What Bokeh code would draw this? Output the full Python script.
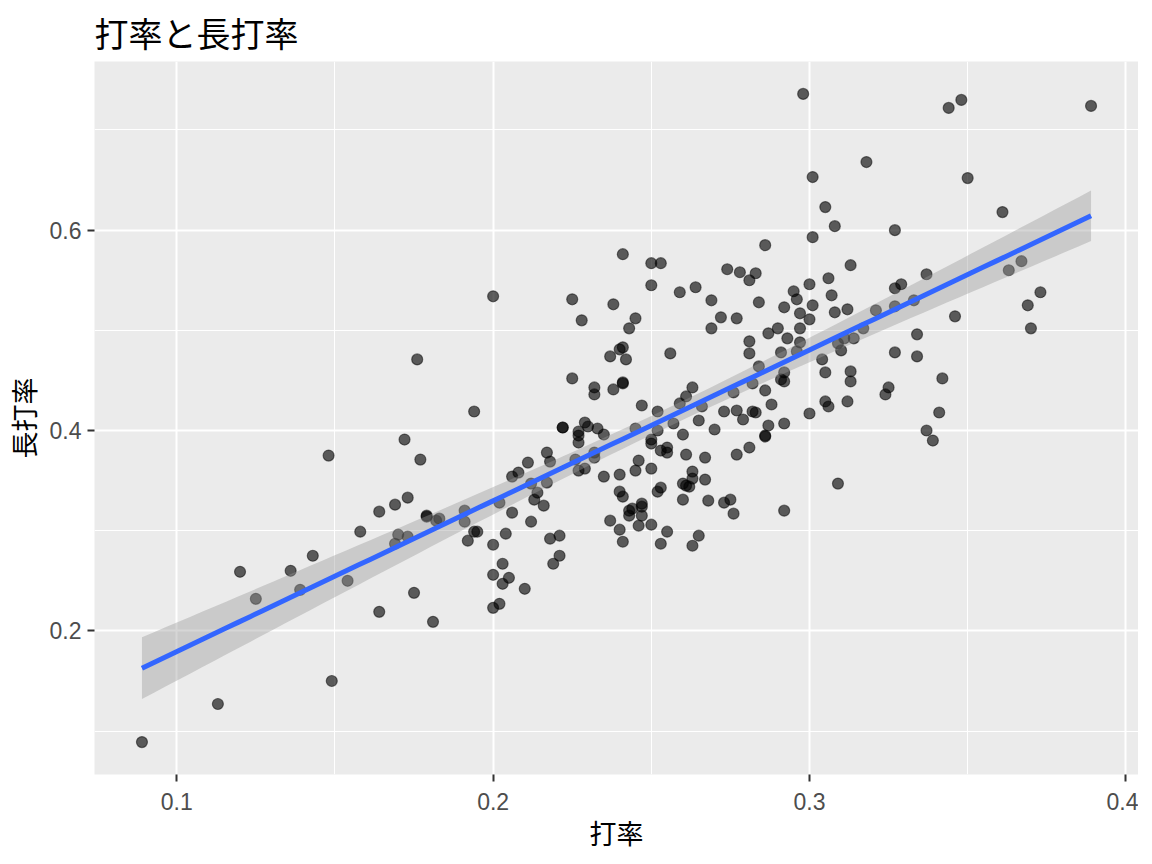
import numpy as np
from bokeh.plotting import figure
from bokeh.models import FixedTicker, Range1d, ColumnDataSource
from bokeh.embed import file_html
from bokeh.resources import INLINE

# ---- data (打率 = batting average, 長打率 = slugging) ----
batting_avg = [
    0.176, 0.172, 0.177, 0.148, 0.173, 0.169, 0.164, 0.179, 0.179, 0.182,
    0.183, 0.191, 0.191, 0.192, 0.158, 0.170, 0.173, 0.169, 0.143, 0.136,
    0.120, 0.139, 0.125, 0.154, 0.175, 0.164, 0.181, 0.149, 0.113, 0.089,
    0.200, 0.241, 0.250, 0.253, 0.250, 0.259, 0.264, 0.225, 0.238, 0.228,
    0.245, 0.243, 0.241, 0.240, 0.237, 0.242, 0.256, 0.225, 0.232, 0.232,
    0.238, 0.241, 0.241, 0.263, 0.261,
    0.194, 0.222, 0.222, 0.229, 0.230, 0.227, 0.227, 0.227, 0.233, 0.235,
    0.245, 0.247, 0.252, 0.259, 0.257, 0.252, 0.260, 0.265, 0.250, 0.250,
    0.253, 0.255, 0.255, 0.261, 0.246, 0.245, 0.250, 0.263, 0.263, 0.260,
    0.261, 0.262, 0.253, 0.252, 0.260, 0.263, 0.265, 0.255, 0.253, 0.250,
    0.246, 0.247, 0.247, 0.247, 0.243, 0.244, 0.243, 0.240, 0.241, 0.240,
    0.235, 0.237, 0.240, 0.241, 0.232, 0.232, 0.229, 0.226, 0.227, 0.217,
    0.218, 0.211, 0.208, 0.206, 0.212, 0.217, 0.214, 0.213, 0.216, 0.206,
    0.202, 0.212, 0.194, 0.195, 0.204, 0.200, 0.218, 0.221, 0.203, 0.219,
    0.221,
    0.200, 0.205, 0.203, 0.210, 0.200, 0.202,
    0.301, 0.308, 0.327, 0.286, 0.274, 0.278, 0.283, 0.281, 0.313, 0.269,
    0.272, 0.277, 0.269, 0.284, 0.295, 0.296, 0.300, 0.306, 0.307, 0.292,
    0.297, 0.301, 0.300, 0.308, 0.312, 0.290, 0.287, 0.297, 0.293, 0.281,
    0.281, 0.297, 0.291, 0.296, 0.309, 0.310, 0.314, 0.311, 0.317, 0.321,
    0.327, 0.329, 0.327, 0.333, 0.337, 0.334, 0.327, 0.334, 0.304, 0.305,
    0.313, 0.313, 0.325, 0.324, 0.342, 0.284, 0.292, 0.291, 0.292, 0.282,
    0.286, 0.276,
    0.266, 0.273, 0.277, 0.282, 0.283, 0.279, 0.288, 0.287, 0.292, 0.300,
    0.305, 0.306, 0.312, 0.341, 0.337, 0.339, 0.309, 0.270, 0.286, 0.286,
    0.281, 0.277, 0.267, 0.267, 0.268, 0.273, 0.275, 0.276, 0.292,
    0.298, 0.344, 0.348, 0.389, 0.318, 0.301, 0.350, 0.305, 0.361,
    0.367, 0.363, 0.373, 0.369, 0.370, 0.346,
]
slugging = [
    0.471, 0.391, 0.371, 0.375, 0.333, 0.326, 0.319, 0.314, 0.315, 0.310,
    0.312, 0.320, 0.309, 0.290, 0.299, 0.296, 0.294, 0.287, 0.275, 0.260,
    0.259, 0.241, 0.232, 0.250, 0.238, 0.219, 0.209, 0.150, 0.127, 0.089,
    0.534, 0.576, 0.567, 0.567, 0.545, 0.538, 0.543, 0.531, 0.526, 0.510,
    0.512, 0.502, 0.483, 0.481, 0.474, 0.471, 0.477, 0.452, 0.443, 0.436,
    0.441, 0.448, 0.447, 0.443, 0.434,
    0.419, 0.403, 0.403, 0.408, 0.404, 0.399, 0.395, 0.388, 0.402, 0.396,
    0.402, 0.425, 0.419, 0.427, 0.407, 0.400, 0.396, 0.410, 0.391, 0.387,
    0.380, 0.383, 0.378, 0.376, 0.370, 0.360, 0.362, 0.359, 0.352, 0.347,
    0.345, 0.344, 0.343, 0.339, 0.331, 0.285, 0.295, 0.299, 0.287, 0.306,
    0.305, 0.327, 0.324, 0.315, 0.320, 0.322, 0.315, 0.339, 0.334, 0.356,
    0.354, 0.310, 0.301, 0.289, 0.378, 0.373, 0.362, 0.371, 0.360, 0.378,
    0.369, 0.368, 0.358, 0.354, 0.347, 0.348, 0.338, 0.331, 0.325, 0.318,
    0.328, 0.309, 0.299, 0.299, 0.297, 0.286, 0.292, 0.295, 0.267, 0.267,
    0.275,
    0.256, 0.253, 0.247, 0.242, 0.223, 0.227,
    0.593, 0.604, 0.600, 0.585, 0.561, 0.558, 0.557, 0.550, 0.565, 0.530,
    0.513, 0.512, 0.502, 0.528, 0.539, 0.531, 0.546, 0.552, 0.535, 0.523,
    0.517, 0.525, 0.511, 0.518, 0.521, 0.502, 0.497, 0.502, 0.492, 0.489,
    0.477, 0.488, 0.478, 0.479, 0.487, 0.480, 0.492, 0.492, 0.502, 0.520,
    0.542, 0.546, 0.524, 0.530, 0.556, 0.496, 0.478, 0.474, 0.471, 0.458,
    0.459, 0.449, 0.443, 0.436, 0.452, 0.464, 0.458, 0.451, 0.449, 0.447,
    0.440, 0.438,
    0.424, 0.419, 0.420, 0.419, 0.418, 0.411, 0.426, 0.405, 0.407, 0.417,
    0.429, 0.424, 0.429, 0.418, 0.400, 0.390, 0.347, 0.401, 0.395, 0.394,
    0.383, 0.376, 0.373, 0.351, 0.330, 0.328, 0.331, 0.317, 0.320,
    0.736, 0.722, 0.730, 0.724, 0.668, 0.653, 0.652, 0.623, 0.618,
    0.569, 0.560, 0.538, 0.525, 0.502, 0.514,
]

title_text = "打率と長打率"
x_label = "打率"
y_label = "長打率"
x_major = [0.1, 0.2, 0.3, 0.4]
x_minor = [0.15, 0.25, 0.35]
y_major = [0.2, 0.4, 0.6]
y_minor = [0.1, 0.3, 0.5, 0.7]

x = np.array(batting_avg)
y = np.array(slugging)

# linear model + 95% confidence band (as geom_smooth(method="lm"))
n = len(x)
b1, b0 = np.polyfit(x, y, 1)
resid = y - (b0 + b1 * x)
s = np.sqrt(np.sum(resid ** 2) / (n - 2))
xbar = x.mean()
sxx = np.sum((x - xbar) ** 2)
xs = np.linspace(x.min(), x.max(), 80)
fit = b0 + b1 * xs
se = s * np.sqrt(1.0 / n + (xs - xbar) ** 2 / sxx)
tval = 1.97
lo = fit - tval * se
hi = fit + tval * se

def expand(a, b, f=0.05):
    d = (b - a) * f
    return a - d, b + d

xlo, xhi = expand(x.min(), x.max())
ylo, yhi = expand(y.min(), y.max())

p = figure(width=1138, height=854,
           output_backend="svg", toolbar_location=None,
           x_range=Range1d(xlo, xhi), y_range=Range1d(ylo, yhi),
           min_border_left=88, min_border_right=0,
           min_border_top=54, min_border_bottom=70,
           background_fill_color="#EBEBEB", border_fill_color="white",
           outline_line_color=None, title=title_text)

p.title.text_font = "Noto Sans CJK JP"
p.title.text_font_size = "34px"
p.title.text_font_style = "normal"
p.title.text_color = "black"
p.title.align = "left"
p.title.standoff = 10

for ax, ticks, minors in ((p.xaxis[0], x_major, x_minor), (p.yaxis[0], y_major, y_minor)):
    ax.ticker = FixedTicker(ticks=ticks, minor_ticks=minors)
    ax.major_label_overrides = {t: f"{t:.1f}" for t in ticks}
    ax.axis_line_color = None
    ax.major_tick_line_color = "#333333"
    ax.major_tick_line_width = 2
    ax.major_tick_out = 7
    ax.major_tick_in = 0
    ax.minor_tick_line_color = None
    ax.major_label_text_font = "Liberation Sans"
    ax.major_label_text_font_size = "23px"
    ax.major_label_text_color = "#4D4D4D"
    ax.axis_label_text_font = "Noto Sans CJK JP"
    ax.axis_label_text_font_size = "27px"
    ax.axis_label_text_font_style = "normal"
    ax.axis_label_text_color = "black"

p.xaxis.major_label_standoff = 11
p.yaxis.major_label_standoff = 6
p.xaxis.axis_label = x_label
p.yaxis.axis_label = y_label
p.xaxis.axis_label_standoff = 0
p.yaxis.axis_label_standoff = 4

for g in (p.xgrid[0], p.ygrid[0]):
    g.grid_line_color = "white"
    g.grid_line_width = 2
    g.minor_grid_line_color = "white"
    g.minor_grid_line_width = 1

src = ColumnDataSource(dict(x=x, y=y))
p.scatter("x", "y", source=src, size=11, fill_color="black", fill_alpha=0.62,
          line_color="black", line_alpha=0.5, line_width=1.2)

p.varea(x=xs, y1=lo, y2=hi, fill_color="#999999", fill_alpha=0.4)
p.line(xs, fit, line_color="#3366FF", line_width=5)

open("out.html", "w").write(file_html(p, INLINE))
